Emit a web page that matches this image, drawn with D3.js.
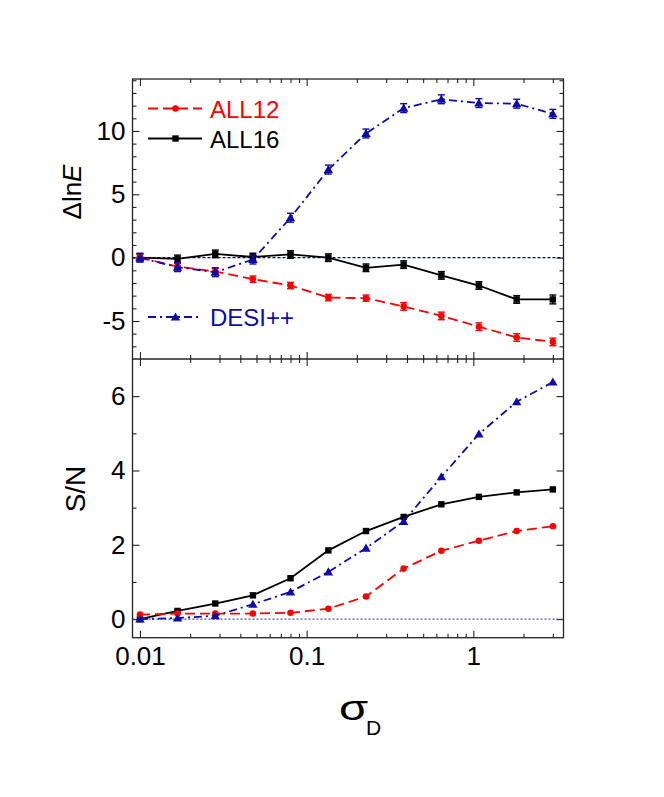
<!DOCTYPE html>
<html>
<head>
<meta charset="utf-8">
<script src="https://cdn.jsdelivr.net/npm/d3@7"></script>
<style>
  html, body { margin: 0; padding: 0; background: #fff; }
  svg { display: block; font-family: "Liberation Sans", Arial, sans-serif; }
</style>
</head>
<body>
<svg id="chart" width="664" height="797"></svg>
<script>
// ---- data ----
const sigmaD = [0.01, 0.0168, 0.0283, 0.0476, 0.080, 0.135, 0.227, 0.382, 0.643, 1.08, 1.82, 3.0];

const dlnE_ALL12 = [0.0, -0.7, -1.1, -1.7, -2.2, -3.15, -3.2, -3.85, -4.6, -5.45, -6.3, -6.65];
const dlnE_ALL16 = [0.0, -0.1, 0.3, 0.05, 0.25, 0.0, -0.8, -0.55, -1.4, -2.2, -3.3, -3.3];
const dlnE_DESI  = [0.0, -0.75, -1.15, -0.15, 3.15, 6.95, 9.8, 11.8, 12.5, 12.2, 12.15, 11.35];
const err_ALL12  = [0.3, 0.25, 0.25, 0.25, 0.25, 0.25, 0.25, 0.3, 0.3, 0.3, 0.3, 0.3];
const err_ALL16  = [0.3, 0.3, 0.3, 0.3, 0.3, 0.3, 0.3, 0.3, 0.3, 0.3, 0.3, 0.35];
const err_DESI   = [0.35, 0.35, 0.35, 0.35, 0.35, 0.35, 0.35, 0.35, 0.35, 0.35, 0.35, 0.35];

const sn_ALL12 = [0.12, 0.15, 0.15, 0.15, 0.17, 0.28, 0.61, 1.36, 1.84, 2.11, 2.37, 2.5];
const sn_ALL16 = [0.0, 0.22, 0.42, 0.64, 1.1, 1.85, 2.37, 2.75, 3.09, 3.29, 3.41, 3.49];
const sn_DESI  = [0.0, 0.03, 0.09, 0.4, 0.73, 1.27, 1.91, 2.63, 3.83, 4.98, 5.85, 6.38];

const seriesNames = ["ALL12", "ALL16", "DESI++"];
const xMajorTicks = [0.01, 0.1, 1];
const xTickLabels = ["0.01", "0.1", "1"];
const yTopTicks = [-5, 0, 5, 10];
const yBotTicks = [0, 2, 4, 6];

// ---- layout ----
const L = 132.5, R = 563.5, T = 79, M = 359, B = 637.7;
const colors = { ALL12: "#ff0000", ALL16: "#000000", "DESI++": "#0c0ca6" };
const dashes = { ALL12: "10,5", ALL16: null, "DESI++": "8,4,2,4" };
const FONT = 24, TICKFONT = 26;

const svg = d3.select("#chart");

const x = d3.scaleLog().domain([0.00902, 3.475]).range([L, R]);
const yTop = d3.scaleLinear().domain([-8, 14.1]).range([M, T]);
const yBot = d3.scaleLinear().domain([-0.5, 7]).range([B, M]);

const xMinor = x.ticks().filter(v => !xMajorTicks.some(m => Math.abs(m - v) < 1e-9));

function styleAxis(g) {
  g.select(".domain").remove();
  g.selectAll(".tick line").attr("stroke", "#222").attr("stroke-width", 1.1);
}
function styleText(g) {
  g.selectAll("text").attr("font-size", TICKFONT).attr("fill", "#000")
    .attr("font-family", "'Liberation Sans', Arial, sans-serif");
}

function drawPanel(y, top, bottom, majors, minors, showXLabels) {
  svg.append("g").attr("transform", `translate(${L},0)`)
    .call(d3.axisLeft(y).tickValues(majors).tickSize(-7).tickPadding(7).tickFormat(d => String(d)))
    .call(styleAxis).call(styleText);
  svg.append("g").attr("transform", `translate(${L},0)`)
    .call(d3.axisLeft(y).tickValues(minors).tickSize(-4).tickFormat(""))
    .call(styleAxis);
  svg.append("g").attr("transform", `translate(${R},0)`)
    .call(d3.axisRight(y).tickValues(majors).tickSize(-7).tickFormat(""))
    .call(styleAxis);
  svg.append("g").attr("transform", `translate(${R},0)`)
    .call(d3.axisRight(y).tickValues(minors).tickSize(-4).tickFormat(""))
    .call(styleAxis);
  svg.append("g").attr("transform", `translate(0,${top})`)
    .call(d3.axisTop(x).tickValues(xMajorTicks).tickSize(-7).tickFormat(""))
    .call(styleAxis);
  svg.append("g").attr("transform", `translate(0,${top})`)
    .call(d3.axisTop(x).tickValues(xMinor).tickSize(-4).tickFormat(""))
    .call(styleAxis);
  svg.append("g").attr("transform", `translate(0,${bottom})`)
    .call(d3.axisBottom(x).tickValues(xMajorTicks).tickSize(-7).tickPadding(9)
      .tickFormat((d, i) => showXLabels ? xTickLabels[i] : ""))
    .call(styleAxis).call(styleText);
  svg.append("g").attr("transform", `translate(0,${bottom})`)
    .call(d3.axisBottom(x).tickValues(xMinor).tickSize(-4).tickFormat(""))
    .call(styleAxis);
}

// frame
svg.append("rect").attr("x", L).attr("y", T).attr("width", R - L).attr("height", B - T)
  .attr("fill", "none").attr("stroke", "#222").attr("stroke-width", 1.3);
svg.append("line").attr("x1", L).attr("x2", R).attr("y1", M).attr("y2", M)
  .attr("stroke", "#222").attr("stroke-width", 1.3);

drawPanel(yTop, T, M, yTopTicks, d3.range(-7, 15).filter(v => v % 5 !== 0), false);
drawPanel(yBot, M, B, yBotTicks, [1, 3, 5], true);

// zero reference lines
svg.append("line").attr("x1", L).attr("x2", R).attr("y1", yTop(0)).attr("y2", yTop(0))
  .attr("stroke", "#00008b").attr("stroke-width", 1.2).attr("stroke-dasharray", "3,2");
svg.append("line").attr("x1", L).attr("x2", R).attr("y1", yBot(0)).attr("y2", yBot(0))
  .attr("stroke", "#4a4aae").attr("stroke-width", 1.1).attr("stroke-dasharray", "2,2");

function marker(g, name, cx, cy) {
  const c = colors[name];
  if (name === "ALL12") {
    g.append("circle").attr("cx", cx).attr("cy", cy).attr("r", 3.3).attr("fill", c);
  } else if (name === "ALL16") {
    g.append("rect").attr("x", cx - 3.2).attr("y", cy - 3.2).attr("width", 6.4).attr("height", 6.4).attr("fill", c);
  } else {
    g.append("path").attr("d", d3.symbol(d3.symbolTriangle, 38)()).attr("transform", `translate(${cx},${cy + 0.8})`).attr("fill", c);
  }
}

function drawSeries(y, name, vals, errs) {
  const g = svg.append("g");
  const line = d3.line().x((d, i) => x(sigmaD[i])).y(d => y(d));
  g.append("path").datum(vals).attr("d", line).attr("fill", "none")
    .attr("stroke", colors[name]).attr("stroke-width", 1.8)
    .attr("stroke-dasharray", dashes[name]);
  vals.forEach((v, i) => {
    const cx = x(sigmaD[i]), cy = y(v);
    if (errs) {
      const y1 = y(v + errs[i]), y2 = y(v - errs[i]);
      g.append("line").attr("x1", cx).attr("x2", cx).attr("y1", y1).attr("y2", y2)
        .attr("stroke", colors[name]).attr("stroke-width", 1.4);
      [y1, y2].forEach(yy => g.append("line").attr("x1", cx - 3.5).attr("x2", cx + 3.5)
        .attr("y1", yy).attr("y2", yy).attr("stroke", colors[name]).attr("stroke-width", 1.4));
    }
    marker(g, name, cx, cy);
  });
}

drawSeries(yTop, "ALL16", dlnE_ALL16, err_ALL16);
drawSeries(yTop, "ALL12", dlnE_ALL12, err_ALL12);
drawSeries(yTop, "DESI++", dlnE_DESI, err_DESI);

drawSeries(yBot, "ALL16", sn_ALL16, null);
drawSeries(yBot, "ALL12", sn_ALL12, null);
drawSeries(yBot, "DESI++", sn_DESI, null);

// legend
const legendY = { ALL12: 108.5, ALL16: 138.5, "DESI++": 317 };
seriesNames.forEach(name => {
  const ly = legendY[name];
  const g = svg.append("g");
  g.append("line").attr("x1", 148).attr("x2", 202).attr("y1", ly).attr("y2", ly)
    .attr("stroke", colors[name]).attr("stroke-width", 1.8).attr("stroke-dasharray", dashes[name]);
  marker(g, name, 175.5, ly);
  g.append("text").attr("x", 210).attr("y", ly + 9).attr("font-size", FONT)
    .attr("fill", colors[name]).text(name);
});

// axis titles
const t1 = svg.append("text").attr("transform", "translate(81,192) rotate(-90)")
  .attr("text-anchor", "middle").attr("font-size", 26).attr("fill", "#000");
t1.append("tspan").text("\u0394ln");
t1.append("tspan").attr("font-style", "italic").text("E");

svg.append("text").attr("transform", "translate(85,489) rotate(-90)")
  .attr("text-anchor", "middle").attr("font-size", 28).attr("fill", "#000").text("S/N");

svg.append("text").attr("transform", "translate(339,720) scale(1.35,1)")
  .attr("font-size", 35).attr("fill", "#000").text("\u03c3");
svg.append("text").attr("x", 366).attr("y", 735).attr("font-size", 21).attr("fill", "#000").text("D");
</script>
</body>
</html>
